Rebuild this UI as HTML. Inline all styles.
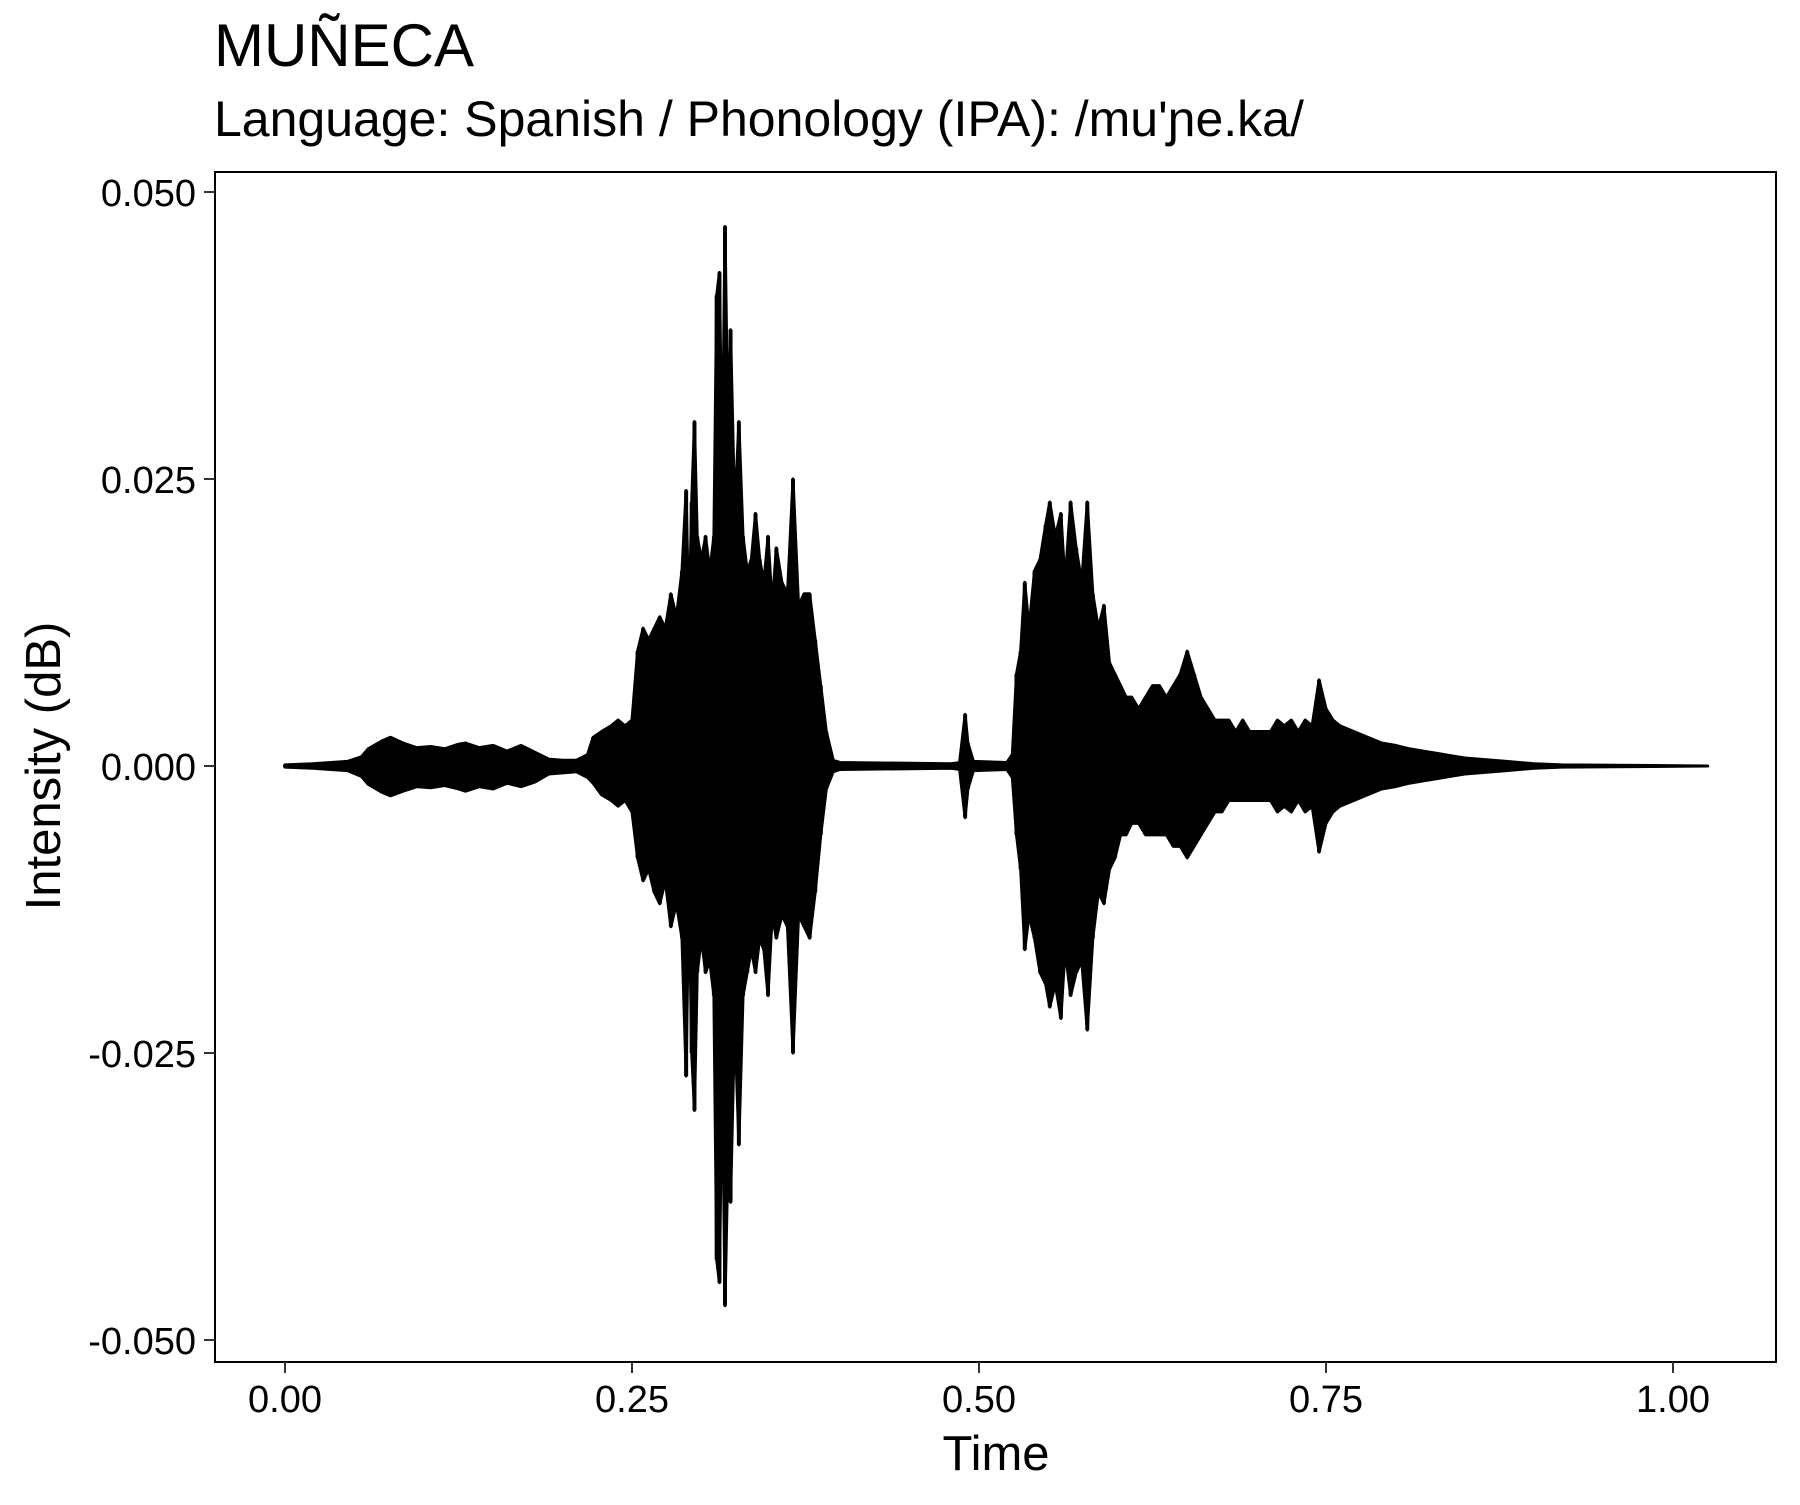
<!DOCTYPE html>
<html><head><meta charset="utf-8"><style>
body{margin:0;background:#fff}
svg text{font-family:"Liberation Sans",sans-serif;fill:#000}
</style></head><body>
<svg id="chart" width="1800" height="1500" xmlns="http://www.w3.org/2000/svg">
<rect width="1800" height="1500" fill="#fff"/>
<text x="214" y="66" font-size="60">MUÑECA</text>
<text x="214" y="136" font-size="50">Language: Spanish / Phonology (IPA): /mu'ɲe.ka/</text>
<g id="marks"></g>
<rect x="215" y="172" width="1561" height="1190" fill="none" stroke="#000" stroke-width="2"/>
<g id="axes"></g>
<text x="996" y="1470" font-size="49" text-anchor="middle">Time</text>
<text transform="translate(60,766) rotate(-90)" font-size="49" text-anchor="middle">Intensity (dB)</text>
</svg>
<script>
const times=[0.000,0.020,0.045,0.055,0.060,0.070,0.076,0.085,0.095,0.105,0.115,0.125,0.130,0.140,0.150,0.160,0.170,0.180,0.190,0.200,0.210,0.218,0.222,0.228,0.235,0.240,0.245,0.250,0.254,0.258,0.262,0.266,0.270,0.274,0.278,0.282,0.286,0.289,0.291,0.293,0.295,0.297,0.300,0.303,0.306,0.309,0.311,0.313,0.315,0.317,0.319,0.321,0.324,0.327,0.330,0.333,0.336,0.339,0.342,0.345,0.348,0.351,0.354,0.358,0.362,0.366,0.370,0.374,0.378,0.382,0.386,0.390,0.395,0.400,0.480,0.486,0.490,0.492,0.496,0.520,0.524,0.527,0.530,0.533,0.536,0.540,0.544,0.548,0.551,0.555,0.559,0.562,0.566,0.570,0.574,0.578,0.582,0.586,0.590,0.594,0.598,0.602,0.606,0.610,0.615,0.620,0.625,0.630,0.635,0.640,0.645,0.650,0.655,0.660,0.665,0.670,0.675,0.680,0.685,0.690,0.695,0.700,0.705,0.710,0.715,0.720,0.725,0.730,0.735,0.740,0.745,0.750,0.755,0.760,0.770,0.780,0.790,0.800,0.810,0.820,0.830,0.840,0.850,0.860,0.870,0.880,0.900,0.920,1.025];
const upper=[0.1,0.2,0.4,0.8,1.5,2.2,2.5,2.0,1.6,1.7,1.5,1.9,2.0,1.6,1.8,1.3,1.8,1.2,0.6,0.5,0.5,1.0,2.5,3.0,3.5,4.0,3.5,4.0,10,12,11,12,13,12,15,13,17,24,12,23,30,20,18,20,17,20,41,43,25,47,30,38,22,30,20,17,18,22,18,16,20,14,19,16,15,25,14,15,15,11,7,3,0.5,0.3,0.2,0.3,4.5,2,0.4,0.3,1.0,8,10,16,12,17,18,21,23,20,22,16,23,19,16,23,15,12,14,9,8,7,6,6,5,6,7,7,6,7,8,10,8,6,5,4,4,4,3,4,3,3,3,3,4,3.5,4,3,4,3.5,7.5,5,4,3.5,3,2.5,2,1.8,1.5,1.3,1.1,0.9,0.7,0.6,0.5,0.4,0.2,0.1,0];
const lower=[-0.1,-0.2,-0.4,-0.9,-1.6,-2.3,-2.6,-2.2,-1.8,-1.9,-1.7,-2.0,-2.2,-1.8,-2.0,-1.5,-1.8,-1.4,-0.7,-0.6,-0.5,-1.0,-1.5,-2.5,-3.0,-3.5,-3.0,-4.0,-8,-10,-9,-11,-12,-10,-14,-12,-15,-27,-10,-25,-30,-18,-15,-18,-17,-20,-43,-45,-25,-47,-35,-38,-22,-33,-20,-18,-16,-18,-15,-16,-20,-13,-15,-13,-14,-25,-13,-14,-15,-11,-6,-2,-0.5,-0.3,-0.2,-0.3,-4.5,-2,-0.4,-0.3,-1.0,-6,-9,-16,-13,-15,-18,-19,-21,-19,-22,-16,-20,-18,-17,-23,-15,-11,-12,-9,-8,-6,-6,-5,-5,-6,-6,-6,-6,-7,-7,-8,-7,-6,-5,-4,-4,-3,-3,-3,-3,-3,-3,-3,-4,-3.5,-4,-3,-4,-3.5,-7.5,-5,-4,-3.5,-3,-2.5,-2,-1.8,-1.5,-1.3,-1.1,-0.9,-0.7,-0.6,-0.5,-0.4,-0.2,-0.1,0];
const xTicks=[0,0.25,0.5,0.75,1.0];
const xTickLabels=["0.00","0.25","0.50","0.75","1.00"];
const yTicks=[0.05,0.025,0,-0.025,-0.05];
const yTickLabels=["0.050","0.025","0.000","-0.025","-0.050"];
const NS="http://www.w3.org/2000/svg";
function xs(t){return 285+t*1388;}
function ys(v){return 766-v*11480;}
const marks=document.getElementById('marks');
let pts=[];
for(let i=0;i<times.length;i++)pts.push(xs(times[i])+","+ys(upper[i]/1000));
for(let i=times.length-1;i>=0;i--)pts.push(xs(times[i])+","+ys(lower[i]/1000));
const poly=document.createElementNS(NS,'polygon');
poly.setAttribute('points',pts.join(' '));
poly.setAttribute('fill','#000');poly.setAttribute('stroke','#000');poly.setAttribute('stroke-width','3');poly.setAttribute('stroke-linejoin','round');


marks.appendChild(poly);
for(let i=0;i<times.length;i++){
 const l=document.createElementNS(NS,'line');
 l.setAttribute('x1',xs(times[i]));l.setAttribute('x2',xs(times[i]));
 l.setAttribute('y1',ys(upper[i]/1000));l.setAttribute('y2',ys(lower[i]/1000));
 l.setAttribute('stroke','#000');l.setAttribute('stroke-width','4');
 
 
 marks.appendChild(l);
}
const base=document.createElementNS(NS,'line');
base.setAttribute('x1',xs(0));base.setAttribute('x2',xs(1.025));base.setAttribute('y1',ys(0));base.setAttribute('y2',ys(0));
base.setAttribute('stroke','#000');base.setAttribute('stroke-width','3');


marks.appendChild(base);
const axes=document.getElementById('axes');
xTicks.forEach((t,i)=>{
 const l=document.createElementNS(NS,'line');
 l.setAttribute('x1',xs(t));l.setAttribute('x2',xs(t));l.setAttribute('y1',1362);l.setAttribute('y2',1373);
 l.setAttribute('stroke','#333');l.setAttribute('stroke-width','2');
 
 
 axes.appendChild(l);
 const tx=document.createElementNS(NS,'text');
 tx.setAttribute('x',xs(t));tx.setAttribute('y',1412);tx.setAttribute('font-size','38');tx.setAttribute('text-anchor','middle');
 tx.textContent=xTickLabels[i];
 
 
 axes.appendChild(tx);
});
yTicks.forEach((v,i)=>{
 const l=document.createElementNS(NS,'line');
 l.setAttribute('x1',204);l.setAttribute('x2',215);l.setAttribute('y1',ys(v));l.setAttribute('y2',ys(v));
 l.setAttribute('stroke','#333');l.setAttribute('stroke-width','2');
 
 
 axes.appendChild(l);
 const tx=document.createElementNS(NS,'text');
 tx.setAttribute('x',196);tx.setAttribute('y',ys(v)+14);tx.setAttribute('font-size','38');tx.setAttribute('text-anchor','end');
 tx.textContent=yTickLabels[i];
 
 
 axes.appendChild(tx);
});
</script>
</body></html>
